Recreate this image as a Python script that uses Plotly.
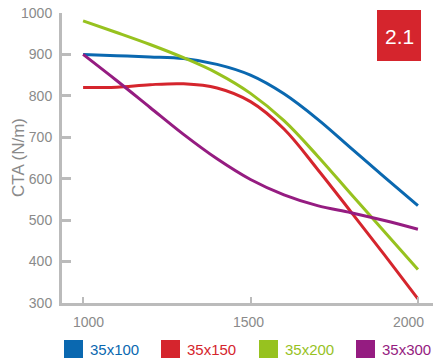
import plotly.graph_objects as go

# Belt width (mm) on the x axis, CTA in N/m on the y axis
widths = [1000, 1100, 1200, 1300, 1400, 1500, 1600, 1700, 1800, 1900, 2000]

series_names = ["35x100", "35x150", "35x200", "35x300"]
cta_35x100 = [900, 897, 894, 890, 876, 850, 805, 744, 674, 604, 535]
cta_35x150 = [820, 821, 827, 829, 819, 786, 720, 623, 520, 416, 310]
cta_35x200 = [981, 953, 924, 892, 855, 806, 740, 655, 563, 472, 381]
cta_35x300 = [900, 837, 772, 707, 648, 598, 561, 535, 518, 499, 478]
series_values = [cta_35x100, cta_35x150, cta_35x200, cta_35x300]
series_colors = ["#0a68b0", "#d5252d", "#97c21f", "#951c81"]

x_ticks = [1000, 1500, 2000]
x_tick_labels = ["1000", "1500", "2000"]
x_label_shift = [5, -2, -9]
y_ticks = [300, 400, 500, 600, 700, 800, 900, 1000]
badge_text = "2.1"

W, H = 433, 363
ML, MR, MT, MB = 62, 0, 13, 60
PW, PH = W - ML - MR, H - MT - MB
AXIS = "#bbbbbb"
LABEL = "#8a8a8a"
FONT = "Liberation Sans, Arial, sans-serif"


def px_x(px):
    return (px - ML) / PW


def px_y(py):
    return (H - MB - py) / PH


fig = go.Figure()
for name, vals, col in zip(series_names, series_values, series_colors):
    fig.add_trace(go.Scatter(
        x=widths, y=vals, name=name, mode="lines",
        line=dict(color=col, width=3, shape="spline", smoothing=1.0),
        showlegend=False,
    ))

shapes = []
annotations = []

# x tick labels, nudged so the last one stays inside the page
for xv, txt, sh in zip(x_ticks, x_tick_labels, x_label_shift):
    annotations.append(dict(text=txt, xref="x", yref="paper", x=xv, y=px_y(322),
                            xanchor="center", yanchor="middle", xshift=sh,
                            showarrow=False, font=dict(family=FONT, size=14, color=LABEL)))

# legend: coloured squares with coloured labels below the plot
leg_x = [64, 161, 259, 356]
for lx, name, col in zip(leg_x, series_names, series_colors):
    shapes.append(dict(type="rect", xref="paper", yref="paper",
                       x0=px_x(lx), x1=px_x(lx + 19), y0=px_y(340), y1=px_y(358),
                       fillcolor=col, line=dict(width=0)))
    annotations.append(dict(text=name, xref="paper", yref="paper",
                            x=px_x(lx + 24), y=px_y(349), xanchor="left", yanchor="middle",
                            showarrow=False, font=dict(family=FONT, size=15, color=col)))

# red badge in the top-right corner
shapes.append(dict(type="rect", xref="paper", yref="paper",
                   x0=px_x(377), x1=px_x(421), y0=px_y(61), y1=px_y(10),
                   fillcolor="#d5252d", line=dict(width=0)))
annotations.append(dict(text=badge_text, xref="paper", yref="paper",
                        x=px_x(399), y=px_y(36), xanchor="center", yanchor="middle",
                        showarrow=False, font=dict(family=FONT, size=21, color="white")))

# y axis title
annotations.append(dict(text="CTA (N/m)", xref="paper", yref="paper",
                        x=px_x(18), y=0.5, xanchor="center", yanchor="middle",
                        textangle=-90, showarrow=False,
                        font=dict(family=FONT, size=17, color=LABEL)))

fig.update_layout(
    width=W, height=H,
    margin=dict(l=ML, r=MR, t=MT, b=MB, pad=0),
    paper_bgcolor="white", plot_bgcolor="white",
    font=dict(family=FONT, size=14, color=LABEL),
    shapes=shapes, annotations=annotations,
    xaxis=dict(range=[937, 2045], tickvals=x_ticks, showgrid=False, zeroline=False,
               showline=True, linecolor=AXIS, linewidth=3, showticklabels=False,
               ticks="inside", ticklen=6, tickwidth=2, tickcolor=AXIS),
    yaxis=dict(range=[300, 1000], tickvals=y_ticks, showgrid=False, zeroline=False,
               showline=True, linecolor=AXIS, linewidth=3,
               ticks="inside", ticklen=9, tickwidth=3, tickcolor=AXIS,
               ticklabelstandoff=4, tickfont=dict(size=14, color=LABEL)),
)

fig.write_html("out.html")
